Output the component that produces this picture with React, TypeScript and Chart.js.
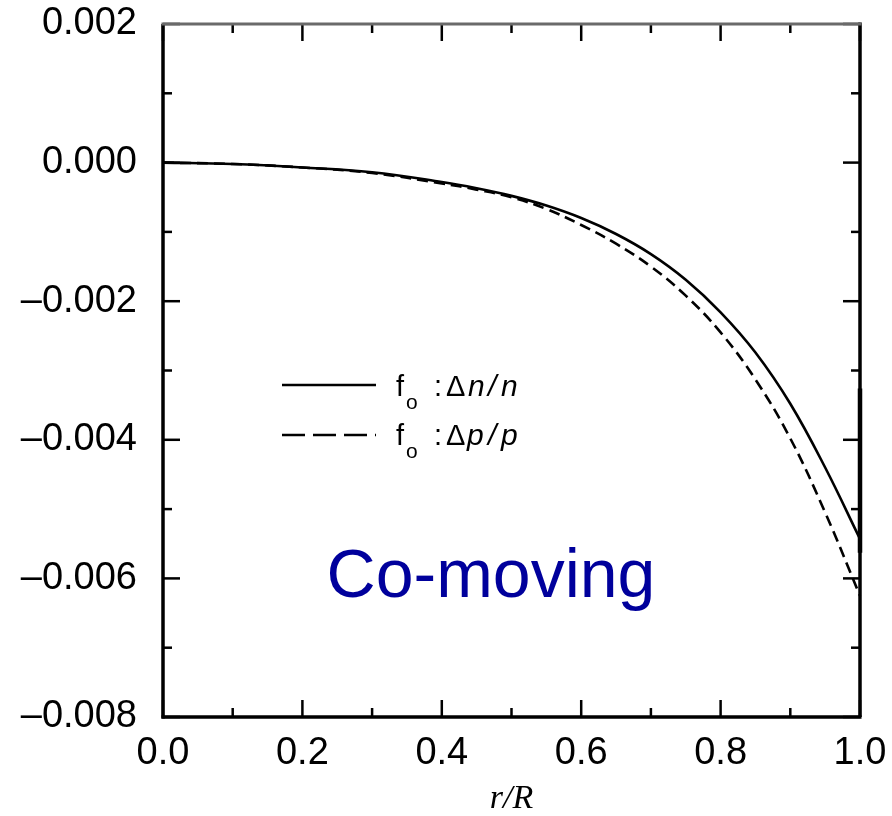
import React, { useEffect, useRef } from "react";
import { Chart, registerables } from "chart.js";

Chart.register(...registerables);

// r/R positions and values
const solidR = [0, 0.1, 0.2, 0.3, 0.4, 0.45, 0.5, 0.55, 0.6, 0.65, 0.7, 0.75, 0.8, 0.85, 0.9, 0.95, 1.0];
const solidV = [0, -0.00002, -0.00007, -0.00014, -0.00028, -0.00037, -0.00048, -0.00062, -0.0008, -0.00103, -0.00132, -0.00169, -0.00216, -0.00274, -0.00348, -0.0044, -0.00543];

const dashedR = [0, 0.1, 0.2, 0.3, 0.4, 0.45, 0.5, 0.55, 0.6, 0.65, 0.7, 0.75, 0.8, 0.85, 0.9, 0.95, 1.0];
const dashedV = [0, -0.00002, -0.00007, -0.00015, -0.0003, -0.00039, -0.0005, -0.00067, -0.0009, -0.00117, -0.0015, -0.00192, -0.00245, -0.00313, -0.00398, -0.00505, -0.00625];

// vertical edge segment of the solid curve at r/R = 1
const edgeR = [1.0, 1.0];
const edgeV = [-0.00563, -0.00326];

const xTickStep = 0.2;
const yTickStep = 0.002;
const xMin = 0, xMax = 1;
const yMin = -0.008, yMax = 0.002;

const SANS = '"Liberation Sans", Arial, Helvetica, sans-serif';
const SERIF = '"Liberation Serif", "Times New Roman", serif';

const toPts = (xs: number[], ys: number[]) => xs.map((x, i) => ({ x, y: ys[i] }));

const zeroPad = (s: any) => {
  s.paddingTop = 0;
  s.paddingBottom = 0;
  s.paddingLeft = 0;
  s.paddingRight = 0;
};

const framePlugin = {
  id: "frameTicks",
  afterDatasetsDraw(chart: any) {
    const { ctx, chartArea, scales } = chart;
    const { left, right, top, bottom } = chartArea;
    const xs = scales.x, ys = scales.y;
    ctx.save();
    ctx.setLineDash([]);
    ctx.strokeStyle = "#000";
    ctx.lineCap = "butt";
    const line = (x1: number, y1: number, x2: number, y2: number) => {
      ctx.beginPath();
      ctx.moveTo(x1, y1);
      ctx.lineTo(x2, y2);
      ctx.stroke();
    };
    const majorLen = 17, minorLen = 9;
    ctx.lineWidth = 2.5;
    const xt = xs.ticks.map((t: any) => t.value);
    const xminor: number[] = [];
    for (let i = 0; i < xt.length - 1; i++) xminor.push((xt[i] + xt[i + 1]) / 2);
    xt.forEach((v: number) => {
      const p = xs.getPixelForValue(v);
      line(p, bottom, p, bottom - majorLen);
      line(p, top, p, top + majorLen);
    });
    xminor.forEach((v) => {
      const p = xs.getPixelForValue(v);
      line(p, bottom, p, bottom - minorLen);
      line(p, top, p, top + minorLen);
    });
    const yt = ys.ticks.map((t: any) => t.value);
    const yminor: number[] = [];
    for (let i = 0; i < yt.length - 1; i++) yminor.push((yt[i] + yt[i + 1]) / 2);
    yt.forEach((v: number) => {
      const p = ys.getPixelForValue(v);
      line(left, p, left + majorLen, p);
      line(right, p, right - majorLen, p);
    });
    yminor.forEach((v) => {
      const p = ys.getPixelForValue(v);
      line(left, p, left + minorLen, p);
      line(right, p, right - minorLen, p);
    });
    // frame
    ctx.lineWidth = 3.5;
    line(left, top, left, bottom + 1.5);
    line(left - 1.5, bottom, right + 1.5, bottom);
    line(right, bottom, right, top - 1.5);
    ctx.strokeStyle = "#6a6a6a";
    ctx.lineWidth = 3;
    line(left - 1.5, top, right + 1.5, top);
    ctx.restore();
  },
  afterDraw(chart: any) {
    const { ctx } = chart;
    ctx.save();
    ctx.fillStyle = "#000";
    ctx.strokeStyle = "#000";
    ctx.textAlign = "left";
    ctx.textBaseline = "alphabetic";
    const row = (lineY: number, baseY: number, dash: number[], glyphs: [string, number, boolean][]) => {
      ctx.lineWidth = 2.5;
      ctx.setLineDash(dash);
      ctx.beginPath();
      ctx.moveTo(282, lineY);
      ctx.lineTo(376, lineY);
      ctx.stroke();
      ctx.setLineDash([]);
      ctx.font = `29px ${SANS}`;
      ctx.fillText("f", 396, baseY);
      ctx.font = `21px ${SANS}`;
      ctx.fillText("o", 406, baseY + 13);
      ctx.font = `29px ${SANS}`;
      ctx.fillText(":", 434, baseY);
      ctx.fillText("\u0394", 446, baseY);
      glyphs.forEach(([g, x, it]) => {
        ctx.font = `${it ? "italic " : ""}30px ${SANS}`;
        ctx.fillText(g, x, baseY);
      });
    };
    row(385, 396, [], [["n", 468, true], ["/", 488, true], ["n", 501, true]]);
    row(435, 445, [23, 8], [["p", 467, true], ["/", 488, true], ["p", 501, true]]);

    ctx.font = `68px ${SANS}`;
    ctx.fillStyle = "#00009c";
    ctx.textAlign = "center";
    ctx.fillText("Co-moving", 491, 597);
    ctx.restore();
  },
};

export default function App() {
  const ref = useRef<HTMLCanvasElement | null>(null);
  useEffect(() => {
    if (!ref.current) return;
    const chart = new Chart(ref.current, {
      type: "line",
      data: {
        datasets: [
          {
            label: "fo : Δn/n",
            data: toPts(solidR, solidV),
            borderColor: "#000",
            borderWidth: 2.6,
            pointRadius: 0,
            tension: 0.4,
            fill: false,
            clip: 6,
          },
          {
            label: "fo : Δp/p",
            data: toPts(dashedR, dashedV),
            borderColor: "#000",
            borderWidth: 2.6,
            borderDash: [11, 6],
            pointRadius: 0,
            tension: 0.4,
            fill: false,
            clip: 6,
          },
          {
            label: "edge",
            data: toPts(edgeR, edgeV),
            borderColor: "#000",
            borderWidth: 4.5,
            pointRadius: 0,
            fill: false,
            clip: 6,
          },
        ],
      },
      options: {
        responsive: false,
        maintainAspectRatio: false,
        animation: false,
        layout: { padding: { left: 0, right: 32, top: 24, bottom: 0 } },
        plugins: { legend: { display: false }, tooltip: { enabled: false }, title: { display: false } },
        scales: {
          x: {
            type: "linear",
            min: xMin,
            max: xMax,
            grid: { display: false, drawTicks: false },
            border: { display: false },
            ticks: {
              stepSize: xTickStep,
              autoSkip: false,
              maxRotation: 0,
              padding: 14,
              color: "#000",
              font: { family: SANS, size: 38 },
              callback: (v: any) => Number(v).toFixed(1),
            },
            title: {
              display: true,
              text: "r/R",
              color: "#000",
              font: { family: SERIF, size: 34, style: "italic" },
              padding: { top: 0, bottom: -3 },
            },
            afterFit: (s: any) => {
              s.height = 99;
              zeroPad(s);
            },
          },
          y: {
            type: "linear",
            min: yMin,
            max: yMax,
            grid: { display: false, drawTicks: false },
            border: { display: false },
            ticks: {
              stepSize: yTickStep,
              autoSkip: false,
              padding: 26,
              color: "#000",
              font: { family: SANS, size: 38 },
              callback: (v: any) => {
                const n = Math.abs(Number(v)) < 1e-9 ? 0 : Number(v);
                return (n < 0 ? "\u2013" : "") + Math.abs(n).toFixed(3);
              },
            },
            afterFit: (s: any) => {
              s.width = 163;
              zeroPad(s);
            },
          },
        },
      },
      plugins: [framePlugin],
    } as any);
    return () => chart.destroy();
  }, []);
  return (
    <div style={{ position: "absolute", left: 0, top: 0, width: 892, height: 816, background: "#fff" }}>
      <canvas ref={ref} width={892} height={816} style={{ display: "block" }} />
    </div>
  );
}
